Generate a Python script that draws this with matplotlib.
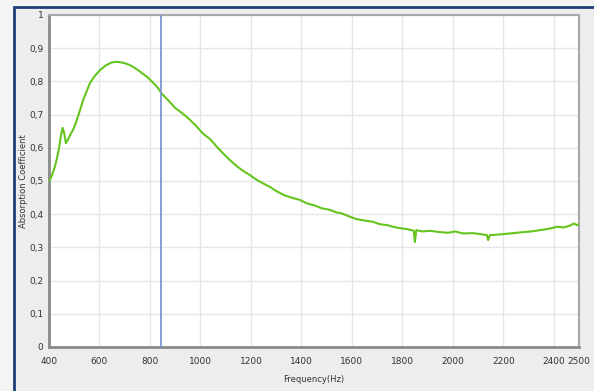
import matplotlib.pyplot as plt
from matplotlib.patches import Rectangle

# absorption coefficient
freq = [400, 408, 420, 430, 440, 448, 454, 460, 467, 475, 485, 495, 505, 515, 523, 530,
        535, 545, 562, 580, 602, 625, 645, 661, 680, 700, 721, 745, 765, 788, 810,
        830, 846, 870, 900, 930, 959, 985, 1010, 1040, 1065, 1090, 1117, 1145,
        1170, 1196, 1220, 1250, 1276, 1300, 1330, 1360, 1394, 1420, 1450, 1480,
        1513, 1540, 1553, 1575, 1593, 1620, 1650, 1684, 1710, 1740, 1763, 1790,
        1820, 1845, 1850, 1855, 1880, 1910, 1949, 1980, 2010, 2040, 2080, 2110,
        2135, 2140, 2147, 2170, 2200, 2240, 2278, 2310, 2345, 2380, 2413, 2440,
        2465, 2480, 2492, 2500]
alpha = [0.50, 0.51, 0.535, 0.563, 0.60, 0.64, 0.66, 0.645, 0.614, 0.625, 0.64, 0.654,
         0.672, 0.695, 0.714, 0.73, 0.744, 0.762, 0.795, 0.815, 0.834, 0.848, 0.856,
         0.859, 0.858, 0.855, 0.849, 0.838, 0.827, 0.814, 0.798, 0.782, 0.764,
         0.745, 0.72, 0.703, 0.684, 0.664, 0.643, 0.625, 0.603, 0.583,
         0.563, 0.544, 0.530, 0.518, 0.505, 0.492, 0.482, 0.470, 0.458,
         0.450, 0.443, 0.433, 0.427, 0.418, 0.413, 0.405, 0.404, 0.398, 0.392,
         0.385, 0.381, 0.377, 0.370, 0.367, 0.362, 0.358, 0.355, 0.350, 0.316,
         0.352, 0.348, 0.350, 0.346, 0.344, 0.348, 0.342, 0.343, 0.340, 0.337,
         0.322, 0.337, 0.338, 0.340, 0.343, 0.346, 0.348, 0.352, 0.356, 0.362,
         0.360, 0.366, 0.372, 0.367, 0.370]
marker_freq = 845

xticks = [400, 600, 800, 1000, 1200, 1400, 1600, 1800, 2000, 2200, 2400, 2500]
yticks = [0, 0.1, 0.2, 0.3, 0.4, 0.5, 0.6, 0.7, 0.8, 0.9, 1]
ylabels = ["0", "0,1", "0,2", "0,3", "0,4", "0,5", "0,6", "0,7", "0,8", "0,9", "1"]

fig = plt.figure(figsize=(5.94, 3.91), dpi=100)
fig.patch.set_facecolor("#f4f4f4")

# window frame behind the chart
fig.patches.append(Rectangle((14 / 594, -0.01), 1, 1 - 7 / 391 + 0.01, transform=fig.transFigure,
                             facecolor="#ededed", edgecolor="#1f3f7a", linewidth=2, zorder=-1))

ax = fig.add_axes([49 / 594, 1 - 347 / 391, 530 / 594, 332 / 391])
ax.set_facecolor("white")
ax.plot(freq, alpha, color="#66c41e", linewidth=1.5, zorder=3)
ax.axvline(marker_freq, color="#7b96d6", linewidth=1.3, zorder=4)

ax.set_xlim(400, 2500)
ax.set_ylim(0, 1)
ax.set_xticks(xticks)
ax.set_yticks(yticks)
ax.set_yticklabels(ylabels)
ax.grid(True, color="#e6e6e6", linewidth=1)
ax.set_axisbelow(True)
ax.tick_params(axis="x", length=0, labelsize=6.5, labelcolor="#333333", pad=7)
ax.tick_params(axis="y", length=0, labelsize=6.5, labelcolor="#333333", pad=4)

for side in ["left", "bottom"]:
    ax.spines[side].set_color("#8a8a8a")
    ax.spines[side].set_linewidth(2)
for side in ["top", "right"]:
    ax.spines[side].set_color("#a8a8a8")
    ax.spines[side].set_linewidth(1.5)

ax.set_xlabel("Frequency(Hz)", fontsize=6, color="#333333")
ax.set_ylabel("Absorption Coefficient", fontsize=6, color="#333333")
ax.xaxis.set_label_coords(0.5, -28 / 332)
ax.yaxis.set_label_coords(-21 / 530, 0.5)

fig.savefig("out.png", dpi=100, facecolor=fig.get_facecolor())
